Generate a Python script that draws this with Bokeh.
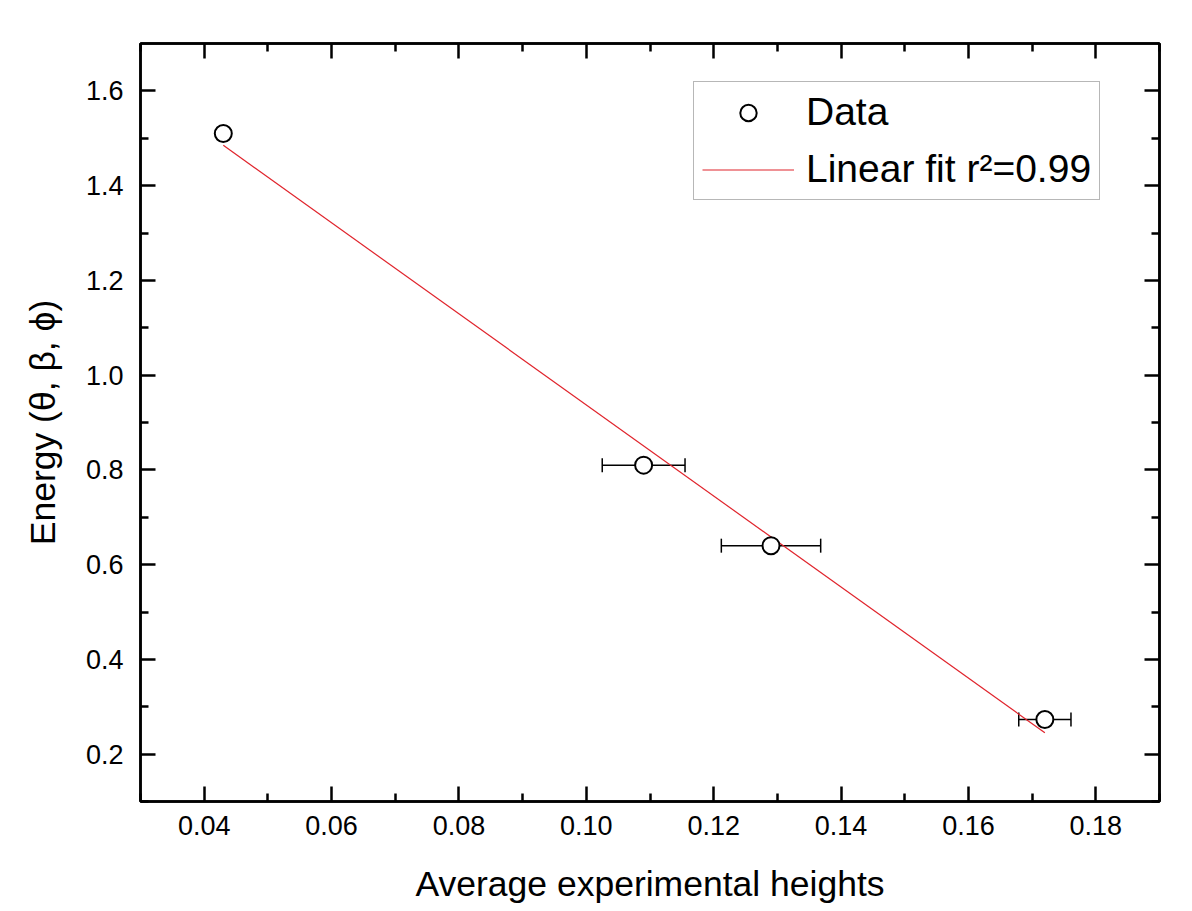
from bokeh.plotting import figure
from bokeh.models import (ColumnDataSource, Whisker, TeeHead, LinearAxis, FixedTicker,
                          NumeralTickFormatter, CustomJSTickFormatter, Legend, LegendItem, Range1d)
from bokeh.embed import file_html
from bokeh.resources import INLINE

# ---- data ----
x_vals = [0.043, 0.109, 0.129, 0.172]
y_vals = [1.51, 0.81, 0.64, 0.273]
x_err = [0.0, 0.0065, 0.0078, 0.0041]

fit_x = [0.043, 0.172]
fit_y = [1.485, 0.245]

x_ticks = [0.04, 0.06, 0.08, 0.10, 0.12, 0.14, 0.16, 0.18]
y_ticks = [0.2, 0.4, 0.6, 0.8, 1.0, 1.2, 1.4, 1.6]

x_label = "Average experimental heights"
y_label = "Energy (\u03b8, \u03b2, \u03d5)"
data_label = "Data"
fit_label = "Linear fit r\u00b2=0.99"

FONT = "Liberation Sans"

x_minor = [t - 0.01 for t in x_ticks] + [x_ticks[-1] + 0.01]
y_minor = [t - 0.1 for t in y_ticks] + [y_ticks[-1] + 0.1]

p = figure(frame_width=1019, frame_height=758,
           x_range=Range1d(0.03, 0.19), y_range=Range1d(0.1, 1.7),
           output_backend="svg", toolbar_location=None,
           min_border_left=140, min_border_right=33,
           min_border_top=43, min_border_bottom=110)
p.grid.visible = False
p.background_fill_color = "white"
p.border_fill_color = "white"
p.outline_line_color = "black"
p.outline_line_width = 2.5


def style_axis(ax, ticks, minor):
    ax.ticker = FixedTicker(ticks=ticks, minor_ticks=minor)
    ax.axis_line_color = "black"
    ax.axis_line_width = 2.5
    ax.major_tick_line_color = "black"
    ax.major_tick_line_width = 2.5
    ax.minor_tick_line_color = "black"
    ax.minor_tick_line_width = 2.5
    ax.major_tick_in = 15
    ax.major_tick_out = 0
    ax.minor_tick_in = 8
    ax.minor_tick_out = 0
    ax.major_label_text_font = FONT
    ax.major_label_text_font_size = "27px"
    ax.major_label_text_color = "black"
    ax.axis_label_text_font = FONT
    ax.axis_label_text_font_size = "35.5px"
    ax.axis_label_text_font_style = "normal"
    ax.axis_label_text_color = "black"


xb = p.xaxis[0]
yl = p.yaxis[0]
style_axis(xb, x_ticks, x_minor)
style_axis(yl, y_ticks, y_minor)
xb.formatter = NumeralTickFormatter(format="0.00")
yl.formatter = NumeralTickFormatter(format="0.0")
xb.axis_label = x_label
yl.axis_label = y_label
xb.major_label_standoff = 14
yl.major_label_standoff = 17
xb.axis_label_standoff = 26
yl.axis_label_standoff = 20

blank = CustomJSTickFormatter(code="return ''")
xt = LinearAxis()
style_axis(xt, x_ticks, x_minor)
xt.formatter = blank
xt.major_label_standoff = 0
p.add_layout(xt, "above")
yr = LinearAxis()
style_axis(yr, y_ticks, y_minor)
yr.formatter = blank
yr.major_label_standoff = 0
p.add_layout(yr, "right")

# error bars
err_src = ColumnDataSource(dict(
    base=y_vals,
    lower=[x - e for x, e in zip(x_vals, x_err)],
    upper=[x + e for x, e in zip(x_vals, x_err)],
))
wh = Whisker(source=err_src, base="base", lower="lower", upper="upper", dimension="width",
             line_color="black", line_width=1.5, level="underlay",
             upper_head=TeeHead(size=14, line_color="black", line_width=1.5),
             lower_head=TeeHead(size=14, line_color="black", line_width=1.5))
p.add_layout(wh)

fit_r = p.line(fit_x, fit_y, line_color="#e0242c", line_width=1.2)
pts = p.scatter(x_vals, y_vals, marker="circle", size=17, line_color="black",
                line_width=2, fill_color="white")

legend = Legend(items=[LegendItem(label=data_label, renderers=[pts]),
                       LegendItem(label=fit_label, renderers=[fit_r])],
                location=(553, 601), margin=0, padding=8, spacing=13,
                glyph_width=92, glyph_height=41, label_height=41,
                label_standoff=12,
                label_text_font=FONT, label_text_font_size="39px",
                label_text_color="black",
                border_line_color="#707070", border_line_width=1.5,
                background_fill_color="white", background_fill_alpha=1.0)
p.add_layout(legend)

open("out.html", "w").write(file_html(p, INLINE))
